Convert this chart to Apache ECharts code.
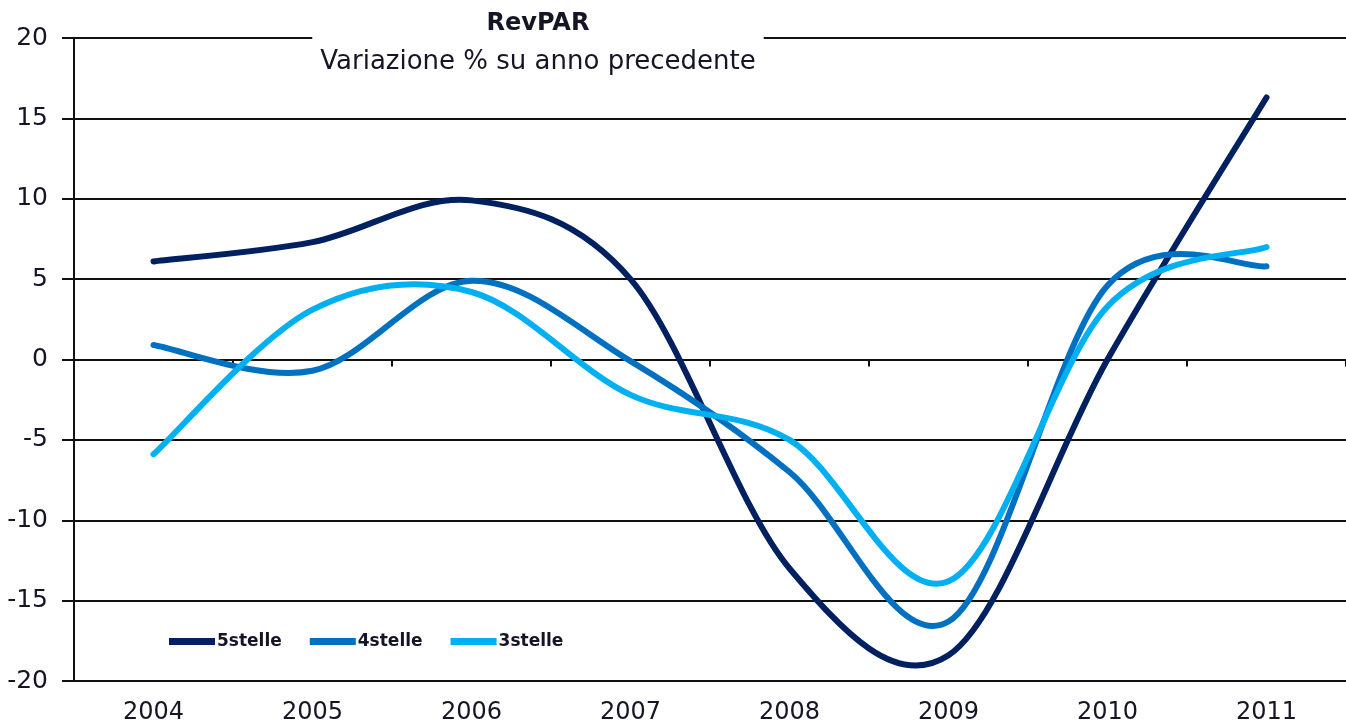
<!DOCTYPE html>
<html>
<head>
<meta charset="utf-8">
<script src="https://cdn.jsdelivr.net/npm/echarts@6/dist/echarts.min.js"></script>
<style>
html,body{margin:0;padding:0;background:#fff;}
#chart{width:1346px;height:725px;}
</style>
</head>
<body>
<div id="chart"></div>
<script>
const categories = ['2004','2005','2006','2007','2008','2009','2010','2011'];
const stelle5 = [6.1, 7.3, 9.9, 5.0, -13.0, -18.4, 0.0, 16.3];
const stelle4 = [0.9, -0.7, 4.9, -0.1, -7.0, -16.3, 4.6, 5.8];
const stelle3 = [-5.9, 3.1, 4.2, -2.2, -5.0, -13.8, 3.3, 7.0];
const seriesNames = ['5stelle', '4stelle', '3stelle'];
const colors = ['#002060', '#0070c0', '#00b0f0'];
const seriesValues = [stelle5, stelle4, stelle3];

const chart = echarts.init(document.getElementById('chart'));
const textColor = '#151525';
const font = 'DejaVu Sans';

// Excel-style smoothed line (Bezier through every data point), positions via the axes' scales
function smoothRender(values, color) {
  return function (params, api) {
    if (params.dataIndex !== 0) return null;
    const pts = values.map((v, i) => api.coord([i, v]));
    const n = pts.length;
    const dist = (a, b) => Math.hypot(a[0] - b[0], a[1] - b[1]);
    let d = 'M' + pts[0][0] + ' ' + pts[0][1];
    for (let i = 0; i < n - 1; i++) {
      const p0 = pts[Math.max(i - 1, 0)], p1 = pts[i], p2 = pts[i + 1], p3 = pts[Math.min(i + 2, n - 1)];
      const seg = dist(p1, p2);
      let f0 = 1 / 6, f1 = 1 / 6;
      const d02 = dist(p0, p2), d13 = dist(p1, p3);
      if (d02 / 6 > seg / 2 && d02 > 0) f0 = seg / 2 / d02;
      if (d13 / 6 > seg / 2 && d13 > 0) f1 = seg / 2 / d13;
      const c1x = p1[0] + (p2[0] - p0[0]) * f0, c1y = p1[1] + (p2[1] - p0[1]) * f0;
      const c2x = p2[0] - (p3[0] - p1[0]) * f1, c2y = p2[1] - (p3[1] - p1[1]) * f1;
      d += ' C' + c1x + ' ' + c1y + ' ' + c2x + ' ' + c2y + ' ' + p2[0] + ' ' + p2[1];
    }
    return {
      type: 'path',
      shape: { pathData: d },
      style: { fill: null, stroke: color, lineWidth: 6, lineCap: 'round', lineJoin: 'round' }
    };
  };
}

chart.setOption({
  animation: false,
  color: colors,
  title: {
    text: 'RevPAR',
    subtext: 'Variazione % su anno precedente',
    left: 530,
    top: 10,
    textAlign: 'center',
    itemGap: 13,
    padding: [2, 8, 0, 8],
    backgroundColor: '#fff',
    z: 10,
    textStyle: { fontFamily: font, fontSize: 24, fontWeight: 'bold', color: textColor },
    subtextStyle: { fontFamily: font, fontSize: 26, color: textColor }
  },
  legend: {
    left: 164,
    top: 628,
    icon: 'rect',
    itemWidth: 46,
    itemHeight: 7,
    itemGap: 28,
    textStyle: { fontFamily: font, fontSize: 17, fontWeight: 'bold', color: textColor, padding: [0, 0, 0, -3] },
    data: seriesNames
  },
  grid: { left: 74, right: -10, top: 38, bottom: 40, containLabel: false },
  xAxis: [
    {
      type: 'category',
      data: categories,
      position: 'bottom',
      axisLine: { show: false, onZero: false },
      axisTick: { show: false },
      axisLabel: { fontFamily: font, fontSize: 24, color: textColor, margin: 20 },
      splitLine: { show: false }
    },
    {
      type: 'category',
      data: categories,
      position: 'bottom',
      axisLine: { show: true, onZero: true, lineStyle: { color: '#111', width: 2 } },
      axisTick: { show: true, length: 7, lineStyle: { color: '#111', width: 2 } },
      axisLabel: { show: false },
      splitLine: { show: false }
    }
  ],
  yAxis: {
    type: 'value',
    min: -20,
    max: 20,
    interval: 5,
    axisLine: { show: true, lineStyle: { color: '#111', width: 2 } },
    axisTick: { show: true, length: 12, lineStyle: { color: '#111', width: 2 } },
    axisLabel: { fontFamily: font, fontSize: 25, color: textColor, margin: 26 },
    splitLine: { show: true, lineStyle: { color: '#111', width: 2 } }
  },
  series: seriesValues.map((vals, k) => ({
    name: seriesNames[k],
    type: 'custom',
    xAxisIndex: 0,
    yAxisIndex: 0,
    data: vals.map((v, i) => [i, v]),
    encode: { x: 0, y: 1 },
    itemStyle: { color: colors[k] },
    renderItem: smoothRender(vals, colors[k]),
    z: 2 + k
  }))
});
</script>
</body>
</html>
